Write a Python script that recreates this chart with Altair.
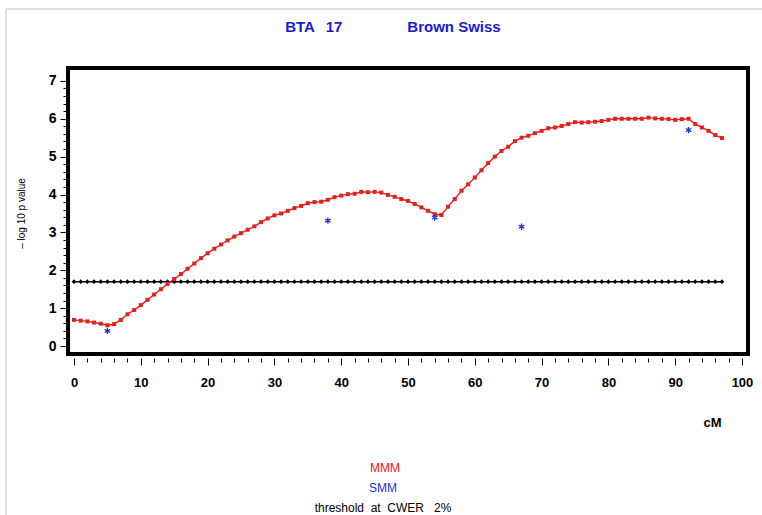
import altair as alt
import pandas as pd

# Marker positions along the chromosome (cM)
cm_positions = list(range(0, 98))

# MMM profile: -log10 p value at each cM
mmm_values = [
    0.69, 0.67, 0.65, 0.62, 0.59, 0.55, 0.58, 0.69, 0.84, 0.95,
    1.08, 1.22, 1.36, 1.50, 1.64, 1.77, 1.90, 2.04, 2.18, 2.32,
    2.45, 2.57, 2.68, 2.79, 2.89, 2.98, 3.07, 3.16, 3.27, 3.37,
    3.45, 3.50, 3.57, 3.64, 3.70, 3.77, 3.80, 3.81, 3.86, 3.93,
    3.97, 4.01, 4.02, 4.07, 4.06, 4.07, 4.05, 3.99, 3.94, 3.88,
    3.83, 3.75, 3.66, 3.57, 3.48, 3.46, 3.68, 3.88, 4.10, 4.27,
    4.45, 4.64, 4.83, 5.00, 5.15, 5.26, 5.41, 5.50, 5.55, 5.62,
    5.68, 5.75, 5.77, 5.81, 5.86, 5.91, 5.90, 5.91, 5.92, 5.94,
    5.97, 6.00, 6.00, 6.00, 6.00, 6.00, 6.03, 6.01, 6.00, 5.99,
    5.97, 5.99, 6.00, 5.86, 5.77, 5.68, 5.57, 5.49,
]

# SMM single-marker results
smm_cm = [5, 38, 54, 67, 92]
smm_values = [0.40, 3.31, 3.39, 3.15, 5.70]

# Threshold at CWER 2%
threshold_value = 1.70
threshold_values = [threshold_value] * len(cm_positions)

x_ticks = [0, 10, 20, 30, 40, 50, 60, 70, 80, 90, 100]
x_minor = list(range(0, 101, 2))
y_ticks = [0, 1, 2, 3, 4, 5, 6, 7]
y_minor = [round(i * 0.2, 1) for i in range(0, 36)]

legend_labels = ["MMM", "SMM", "threshold at CWER 2%"]

RED = "#e3201b"
BLUE = "#1f2fd0"
SANS = "Liberation Sans, Arial"

mmm_df = pd.DataFrame({"cM": cm_positions, "value": mmm_values})
smm_df = pd.DataFrame({"cM": smm_cm, "value": smm_values})
thr_df = pd.DataFrame({"cM": cm_positions, "value": threshold_values})

x_scale = alt.Scale(domain=[-0.9, 100.9], nice=False, zero=False)
y_scale = alt.Scale(domain=[-0.21, 7.34], nice=False, zero=False)

x_axis = alt.Axis(
    values=x_minor,
    tickCount=200,
    labelExpr="datum.value % 10 === 0 ? format(datum.value, 'd') : ''",
    labelOverlap=False,
    tickSize={"condition": {"test": "datum.value % 10 === 0", "value": 7}, "value": 4},
    tickColor="black",
    tickWidth=1,
    domain=False,
    grid=False,
    offset=4,
    labelFont=SANS,
    labelFontSize=13,
    labelFontWeight="bold",
    labelColor="black",
    labelPadding=11,
    labelFlush=False,
    title="cM",
    titleFont=SANS,
    titleFontSize=13,
    titleFontWeight="bold",
    titleColor="black",
    titleX=644,
    titleY=58,
    titleAnchor="middle",
)

y_axis = alt.Axis(
    values=y_minor,
    tickCount=200,
    labelExpr="abs(datum.value % 1) < 0.001 ? format(datum.value, 'd') : ''",
    labelOverlap=False,
    tickSize={"condition": {"test": "abs(datum.value % 1) < 0.001", "value": 6}, "value": 3},
    tickColor="black",
    tickWidth=1,
    domain=False,
    grid=False,
    offset=2,
    labelFont=SANS,
    labelFontSize=14,
    labelFontWeight="bold",
    labelColor="black",
    labelPadding=4,
    labelFlush=False,
    title="\u2013  log  10  p  value",
    titleFont=SANS,
    titleFontSize=10,
    titleFontWeight="normal",
    titleColor="black",
    titleAngle=-90,
    titleX=-45,
    titleY=145,
    titleAlign="center",
    titleBaseline="middle",
)

x_enc = alt.X("cM:Q", scale=x_scale, axis=x_axis)
y_enc = alt.Y("value:Q", scale=y_scale, axis=y_axis)

threshold_line = alt.Chart(thr_df).mark_line(color="black", strokeWidth=1.5).encode(
    x=x_enc, y=y_enc
)
threshold_pts = alt.Chart(thr_df).mark_point(
    shape="diamond", filled=True, color="black", size=22, opacity=1
).encode(x="cM:Q", y="value:Q")

mmm_line = alt.Chart(mmm_df).mark_line(color=RED, strokeWidth=1.4).encode(
    x="cM:Q", y="value:Q"
)
mmm_pts = alt.Chart(mmm_df).mark_point(
    shape="square", filled=True, color=RED, size=16, opacity=1
).encode(x="cM:Q", y="value:Q")

asterisk = "M0,-1L0,1M-0.87,-0.5L0.87,0.5M-0.87,0.5L0.87,-0.5"
smm_pts = alt.Chart(smm_df).mark_point(
    shape=asterisk, filled=False, color=BLUE, size=40, strokeWidth=1.3, opacity=1
).encode(x="cM:Q", y="value:Q")

# Heading pieces and the legend lines below the plot
def note(text, x, y, color, size, weight="normal", font=SANS):
    return alt.Chart(pd.DataFrame({"t": [text]})).mark_text(
        color=color, fontSize=size, fontWeight=weight, font=font,
        align="center", baseline="middle",
    ).encode(text="t:N", x=alt.value(x), y=alt.value(y))

title_bta = note("BTA", 232, -41, "#1a1ad0", 15, "bold")
title_chr = note("17", 266, -41, "#1a1ad0", 15, "bold")
title_breed = note("Brown Swiss", 386, -41, "#1a1ad0", 15, "bold")

leg_mmm = note(legend_labels[0], 317, 400, RED, 12)
leg_smm = note(legend_labels[1], 315, 420, BLUE, 12)
leg_thr = note("threshold\u00a0 at\u00a0 CWER\u00a0\u00a0 2%", 315, 440, "black", 12)

# light page frame on the left and top edges
frame_left = alt.Chart(pd.DataFrame({"a": [0]})).mark_rule(
    color="#e2e2e2", strokeWidth=2
).encode(x=alt.value(-62), y=alt.value(-59), y2=alt.value(447))
frame_top = alt.Chart(pd.DataFrame({"a": [0]})).mark_rule(
    color="#e2e2e2", strokeWidth=2
).encode(x=alt.value(-62), x2=alt.value(694), y=alt.value(-59))

chart = alt.layer(
    frame_left, frame_top,
    threshold_line, threshold_pts,
    mmm_line, mmm_pts,
    smm_pts,
    title_bta, title_chr, title_breed,
    leg_mmm, leg_smm, leg_thr,
).properties(
    width=680,
    height=286,
    autosize=alt.AutoSizeParams(type="none"),
    padding={"left": 68, "top": 68, "right": 14, "bottom": 161},
    background="white",
).configure_view(
    stroke="black", strokeWidth=4
)

chart.save("out.html", embed_options={"renderer": "svg", "actions": False})
